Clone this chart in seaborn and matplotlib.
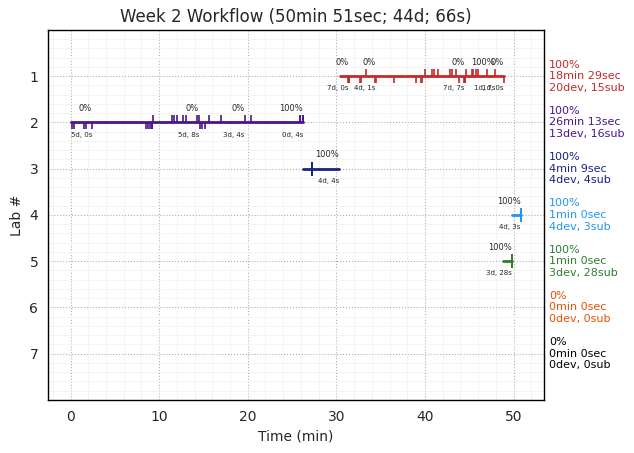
import matplotlib
matplotlib.use("Agg")
import pandas as pd
import seaborn as sns
import matplotlib.pyplot as plt
from matplotlib.ticker import AutoMinorLocator

# lab rows
labs = [1, 2, 3, 4, 5, 6, 7]
lab_colors = ['#c62828', '#4a148c', '#1a237e', '#2196f3', '#2e7d32', '#e65100', '#000000']
starts = [30.4, 0.0, 26.2, 49.85, 48.85]
ends = [48.88, 26.22, 30.35, 50.85, 49.85]

# right side summary
pct_total = ['100%', '100%', '100%', '100%', '100%', '0%', '0%']
durations = ['18min 29sec', '26min 13sec', '4min 9sec', '1min 0sec', '1min 0sec', '0min 0sec', '0min 0sec']
dev_sub = ['20dev, 15sub', '13dev, 16sub', '4dev, 4sub', '4dev, 3sub', '3dev, 28sub', '0dev, 0sub', '0dev, 0sub']

# segment labels
seg_lab = [1, 1, 1, 1, 1, 2, 2, 2, 2, 3, 4, 5]
seg_end = [31.34, 34.39, 44.48, 47.91, 48.87, 2.42, 14.49, 19.67, 26.25, 30.3, 50.8, 49.8]
seg_pct = ['0%', '0%', '0%', '100%', '0%', '0%', '0%', '0%', '100%', '100%', '100%', '100%']
seg_count = ['7d, 0s', '4d, 1s', '7d, 7s', '1d, 7s', '1d, 0s', '5d, 0s', '5d, 8s', '3d, 4s',
             '0d, 4s', '4d, 4s', '4d, 3s', '3d, 28s']

# deviation (down) and submission (up) times, minutes
dev_times = {
    1: [31.35, 31.38, 31.40, 31.42, 31.43, 31.45, 31.47, 32.72, 32.75, 34.40, 34.44,
        36.47, 39.03, 39.52, 39.71, 43.83, 44.45, 44.50, 44.55, 48.91],
    2: [0.14, 0.43, 1.56, 1.75, 2.46, 8.55, 8.74, 8.93, 9.15, 9.17, 14.60, 14.86, 15.16],
    3: [27.25, 27.26, 27.26, 27.27],
    4: [50.86, 50.87, 50.87, 50.88],
    5: [49.84, 49.85, 49.86],
}
sub_times = {
    1: [33.31, 40.0, 40.79, 41.01, 41.51, 42.82, 43.04, 43.54, 44.59, 45.34, 45.36,
        45.72, 46.02, 46.96, 47.94],
    2: [9.33, 11.48, 11.7, 12.04, 12.72, 12.99, 14.3, 14.49, 15.65, 17.0, 19.67, 20.35,
        25.91, 25.93, 26.18, 26.2],
    3: [27.25, 27.26, 27.26, 27.27],
    4: [50.86, 50.87, 50.88],
    5: [49.83, 49.83, 49.84, 49.84, 49.84, 49.84, 49.85, 49.85, 49.85, 49.85, 49.85, 49.85,
        49.85, 49.85, 49.85, 49.85, 49.85, 49.86, 49.86, 49.86, 49.86, 49.86, 49.86, 49.86,
        49.87, 49.87, 49.87, 49.87],
}

sns.set_style("whitegrid", {"axes.edgecolor": "black", "grid.linestyle": ":",
                            "grid.color": "#b0b0b0"})
plt.rcParams['font.family'] = ['DejaVu Sans']

fig, ax = plt.subplots(figsize=(6.34, 4.53), dpi=100)
fig.subplots_adjust(left=0.0757, right=0.858, top=0.934, bottom=0.117)

# horizontal bars for each lab's working span
rows = []
for i, (s, e) in enumerate(zip(starts, ends)):
    rows.append({'lab': labs[i], 'time': s})
    rows.append({'lab': labs[i], 'time': e})
df = pd.DataFrame(rows)
palette = {lab: c for lab, c in zip(labs, lab_colors)}
sns.lineplot(data=df, x='time', y='lab', hue='lab', units='lab', estimator=None,
             palette=palette, linewidth=2, legend=False, ax=ax, sort=True)

tick_len = 0.15
for lab in labs:
    c = palette[lab]
    if lab in dev_times:
        ax.vlines(dev_times[lab], lab, lab + tick_len, color=c, lw=1.2)
    if lab in sub_times:
        ax.vlines(sub_times[lab], lab - tick_len, lab, color=c, lw=1.2)

for lab, x, p, cnt in zip(seg_lab, seg_end, seg_pct, seg_count):
    ax.text(x, lab - 0.2, p, ha='right', va='bottom', fontsize=6)
    ax.text(x, lab + 0.2, cnt, ha='right', va='top', fontsize=5)

for lab, p, d, ds in zip(labs, pct_total, durations, dev_sub):
    ax.text(1.01, lab, f"{p}\n{d}\n{ds}", transform=ax.get_yaxis_transform(),
            color=palette[lab], fontsize=8, va='center', ha='left')

ax.set_ylim(8, 0)
ax.set_yticks(labs)
ax.xaxis.set_minor_locator(AutoMinorLocator())
ax.yaxis.set_minor_locator(AutoMinorLocator())
ax.grid(which='major', linestyle=':', color='#b0b0b0', linewidth=0.8)
ax.grid(which='minor', linestyle='-', color='#f2f2f2', linewidth=0.6)
# invisible ticks that keep the default label spacing
ax.tick_params(which='major', length=3.5, pad=3.5, color=(0, 0, 0, 0))
ax.tick_params(which='minor', length=0)
for sp in ax.spines.values():
    sp.set_color('black')
    sp.set_linewidth(1.0)
ax.set_xlabel('Time (min)')
ax.set_ylabel('Lab #')
ax.set_title('Week 2 Workflow (50min 51sec; 44d; 66s)')

fig.savefig('out.png', dpi=100)
